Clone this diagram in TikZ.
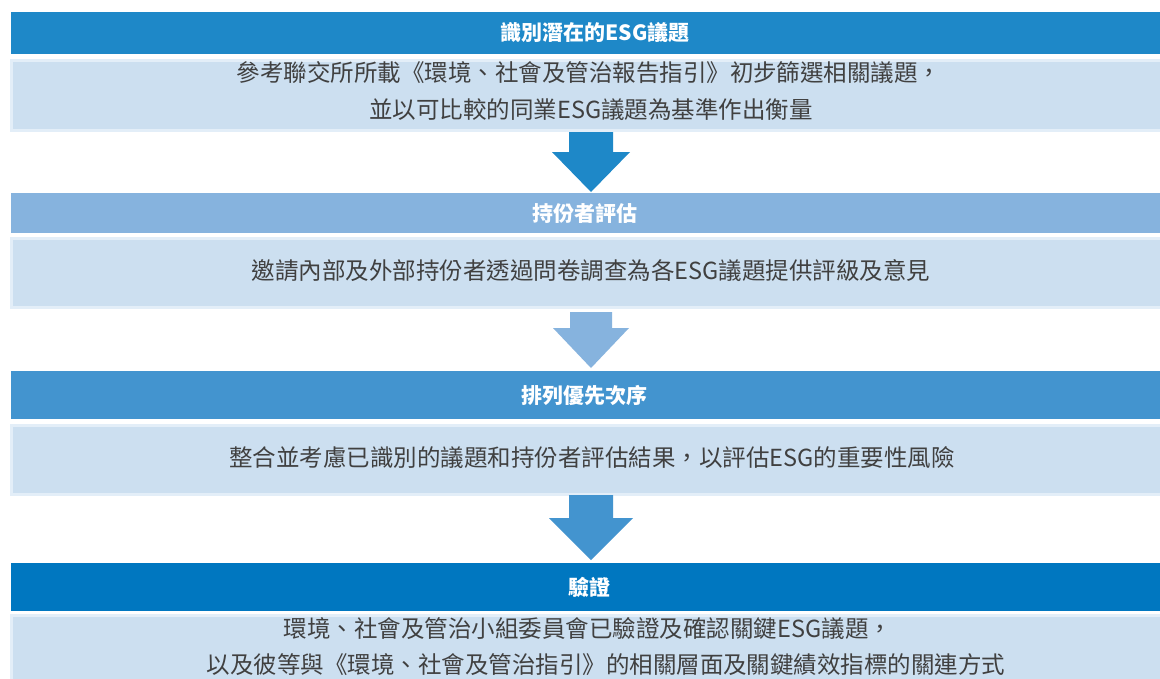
\documentclass[tikz,border=0pt]{standalone}
\usepackage{fontspec}
\setmainfont{Noto Sans CJK TC}
\definecolor{hA}{RGB}{30,136,200}
\definecolor{hB}{RGB}{134,179,222}
\definecolor{hC}{RGB}{67,148,207}
\definecolor{hD}{RGB}{0,119,192}
\definecolor{bodyc}{RGB}{204,223,240}
\definecolor{bordc}{RGB}{227,238,248}
\definecolor{txtc}{RGB}{64,64,64}
\begin{document}
\begin{tikzpicture}[x=1pt,y=-1pt,
  hdrbox/.style={fill=#1, draw=none, inner sep=0pt, anchor=north west, minimum width=1149pt},
  bodybox/.style={fill=bodyc, draw=bordc, line width=3pt, inner sep=0pt, anchor=north west, minimum width=1160pt},
  hdrtxt/.style={text=white, font=\fontsize{21}{25}\selectfont\bfseries, inner sep=0pt},
  bodytxt/.style={text=txtc, font=\fontsize{23.5}{27}\selectfont, inner sep=0pt},
  blockarrow/.style={fill=#1, draw=none}
]
\useasboundingbox (0,0) rectangle (1160,678);
\fill[white] (0,0) rectangle (1160,678);

% stage 1
\node[hdrbox=hA, minimum height=42pt] (h1) at (11,12) {};
\node[bodybox, minimum height=70pt] (b1) at (9.5,58.5) {};
\node[hdrtxt] (h1t) at (595,33) {識別潛在的ESG議題};
\node[bodytxt] (b1a) at (589,73) {參考聯交所所載《環境、社會及管治報告指引》初步篩選相關議題，};
\node[bodytxt] (b1b) at (591,110) {並以可比較的同業ESG議題為基準作出衡量};

% arrow 1
\fill[blockarrow=hA] (569,132) -- (613,132) -- (613,152) -- (630,152) -- (591,192) -- (552,152) -- (569,152) -- cycle;

% stage 2
\node[hdrbox=hB, minimum height=40pt] (h2) at (11,193) {};
\node[bodybox, minimum height=69pt] (b2) at (9.5,236.5) {};
\node[hdrtxt] (h2t) at (585,213) {持份者評估};
\node[bodytxt] (b2a) at (591,271) {邀請內部及外部持份者透過問卷調查為各ESG議題提供評級及意見};

% arrow 2
\fill[blockarrow=hB] (570,312) -- (612,312) -- (612,328) -- (629,328) -- (591,368) -- (553,328) -- (570,328) -- cycle;

% stage 3
\node[hdrbox=hC, minimum height=48pt] (h3) at (11,371) {};
\node[bodybox, minimum height=69pt] (b3) at (9.5,423.5) {};
\node[hdrtxt] (h3t) at (584,395) {排列優先次序};
\node[bodytxt] (b3a) at (592,458) {整合並考慮已識別的議題和持份者評估結果，以評估ESG的重要性風險};

% arrow 3
\fill[blockarrow=hC] (569,495) -- (613,495) -- (613,518) -- (633,518) -- (591,560) -- (549,518) -- (569,518) -- cycle;

% stage 4
\node[hdrbox=hD, minimum height=48pt] (h4) at (11,563) {};
\node[bodybox, minimum height=80pt] (b4) at (9.5,613.5) {};
\node[hdrtxt] (h4t) at (589,587) {驗證};
\node[bodytxt] (b4a) at (588,629) {環境、社會及管治小組委員會已驗證及確認關鍵ESG議題，};
\node[bodytxt] (b4b) at (606,665) {以及彼等與《環境、社會及管治指引》的相關層面及關鍵績效指標的關連方式};
\end{tikzpicture}
\end{document}
